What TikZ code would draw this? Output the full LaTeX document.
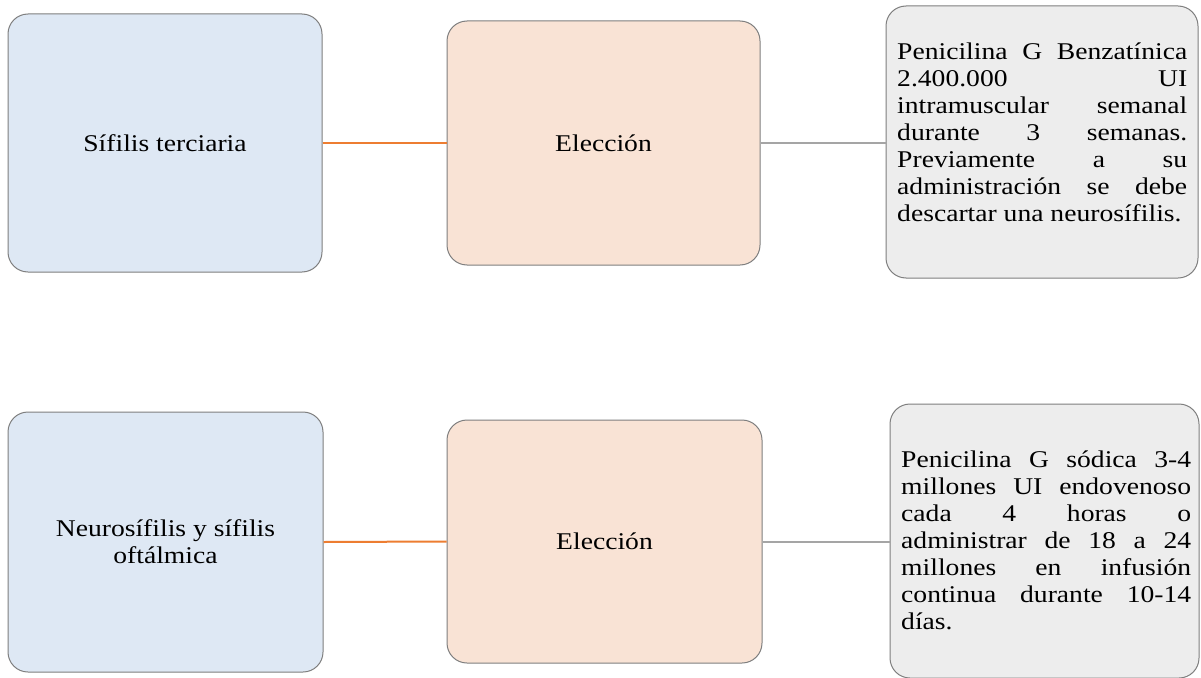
\documentclass[tikz,border=0pt]{standalone}
\usepackage{fontspec}
\setmainfont[FakeStretch=1.15]{Liberation Serif}
\definecolor{boxblue}{HTML}{DEE8F4}
\definecolor{boxorange}{HTML}{F9E3D5}
\definecolor{boxgray}{HTML}{EDEDED}
\definecolor{edgegray}{HTML}{7F7F7F}
\definecolor{linkorange}{HTML}{ED7D31}
\definecolor{linkgray}{HTML}{A5A5A5}
% one fully justified line of the treatment texts
\newcommand\jline[1]{\makebox[290pt][s]{#1}}
\tikzset{
  card/.style={draw=edgegray, line width=1pt, rounded corners=20pt,
    inner sep=0pt, align=center, font=\fontsize{24}{27}\selectfont},
  stage/.style={card, fill=boxblue},
  choice/.style={card, fill=boxorange},
  treat/.style={card, fill=boxgray},
  treattext/.style={inner sep=0pt, align=left, anchor=north west,
    font=\fontsize{24}{27}\selectfont},
  orangelink/.style={draw=linkorange, line width=2pt},
  graylink/.style={draw=linkgray, line width=2pt},
}
\begin{document}
\begin{tikzpicture}[x=1pt, y=-1pt]
  \fill[white] (0,0) rectangle (1201,677);
  \useasboundingbox (0,0) rectangle (1201,677);

  % first row
  \node[stage, minimum width=314pt, minimum height=258pt] (b1) at (165,143) {Sífilis terciaria};
  \node[choice, minimum width=313pt, minimum height=244pt] (o1) at (603.5,143) {Elección};
  \node[treat, minimum width=312pt, minimum height=272pt] (g1) at (1042,142) {};
  \node[treattext] (t1) at (897,43) {%
    \jline{Penicilina G Benzatínica}\\
    \jline{2.400.000 UI}\\
    \jline{intramuscular semanal}\\
    \jline{durante 3 semanas.}\\
    \jline{Previamente a su}\\
    \jline{administración se debe}\\
    descartar una neurosífilis.};
  \draw[orangelink] (b1.east) -- (o1.west);
  \draw[graylink] (o1.east) -- (o1.east -| g1.west);

  % second row
  \node[stage, minimum width=315pt, minimum height=260pt] (b2) at (165.5,542) {Neurosífilis y sífilis\\oftálmica};
  \node[choice, minimum width=315pt, minimum height=243pt] (o2) at (604.5,541.5) {Elección};
  \node[treat, minimum width=309pt, minimum height=274pt] (g2) at (1044.5,541) {};
  \node[treattext] (t2) at (901,451) {%
    \jline{Penicilina G sódica 3-4}\\
    \jline{millones UI endovenoso}\\
    \jline{cada 4 horas o}\\
    \jline{administrar de 18 a 24}\\
    \jline{millones en infusión}\\
    \jline{continua durante 10-14}\\
    días.};
  \draw[orangelink] (b2.east) -- (o2.west);
  \draw[graylink] (o2.east) -- (o2.east -| g2.west);
\end{tikzpicture}
\end{document}
